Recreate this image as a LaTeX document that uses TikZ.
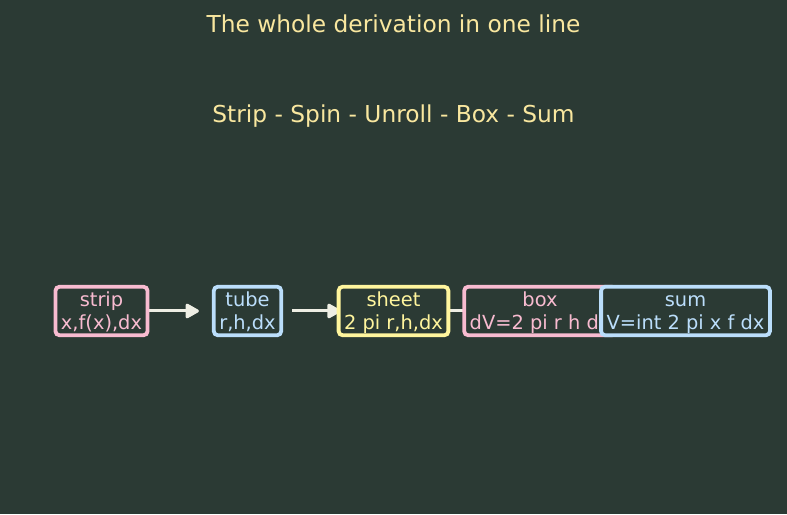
\documentclass[tikz,border=0pt]{standalone}
\usepackage{fontspec}
\setmainfont{DejaVu Sans}
\usetikzlibrary{arrows.meta}
\definecolor{bgc}{HTML}{2B3A34}
\definecolor{pinkc}{HTML}{F8BBD0}
\definecolor{bluec}{HTML}{BBDEFB}
\definecolor{yellowc}{HTML}{FFF59D}
\definecolor{titlec}{HTML}{F9E79F}
\definecolor{arrowc}{HTML}{EEEEE4}
\pgfdeclarelayer{back}
\pgfdeclarelayer{mid}
\pgfsetlayers{back,mid,main}
\newcommand\lnbox{\vphantom{hp}}
\newcommand\lnfirst{\rule{0pt}{18.5pt}\vphantom{hp}}
\tikzset{
  stage/.style={draw=#1, text=#1, fill=bgc, line width=3.8pt, rounded corners=4pt,
    align=center, inner xsep=5.5pt, inner ysep=0pt, minimum height=48.5pt,
    font=\fontsize{19.4}{23}\selectfont},
  flow/.style={draw=arrowc, line width=3pt, -{Triangle[length=15pt,width=16pt,round]}},
  ttl/.style={text=titlec, font=\fontsize{23.3}{28}\selectfont}
}
\begin{document}
\begin{tikzpicture}[x=1pt,y=1pt]
\begin{pgfonlayer}{back}
\fill[bgc] (0,0) rectangle (787,514);
\end{pgfonlayer}
\useasboundingbox (0,0) rectangle (787,514);
\node[ttl] (title) at (393.5,490) {The whole derivation in one line};
\node[ttl] (sub) at (393.5,398) {Strip - Spin - Unroll - Box - Sum};
\node[stage=pinkc] (strip) at (101.5,203) {\lnfirst strip\\\lnbox x,f(x),dx};
\node[stage=bluec] (tube) at (247.5,203) {\lnfirst tube\\\lnbox r,h,dx};
\node[stage=yellowc] (sheet) at (393.5,203) {\lnfirst sheet\\\lnbox 2 pi r,h,dx};
\node[stage=pinkc] (box) at (540,203) {\lnfirst box\\\lnbox dV=2 pi r h dx};
\node[stage=bluec] (sum) at (685.5,203) {\lnfirst sum\\\lnbox V=int 2 pi x f dx};
\begin{pgfonlayer}{mid}
\draw[flow, shorten >=13pt] (strip.east) -- (tube.west);
\draw[flow, shorten <=9pt, shorten >=-4pt] (tube.east) -- (sheet.west);
\draw[flow, shorten >=-16pt] (sheet.east) -- (box.west);
\draw[flow] (box.east) -- (sum.west);
\end{pgfonlayer}
\end{tikzpicture}
\end{document}
